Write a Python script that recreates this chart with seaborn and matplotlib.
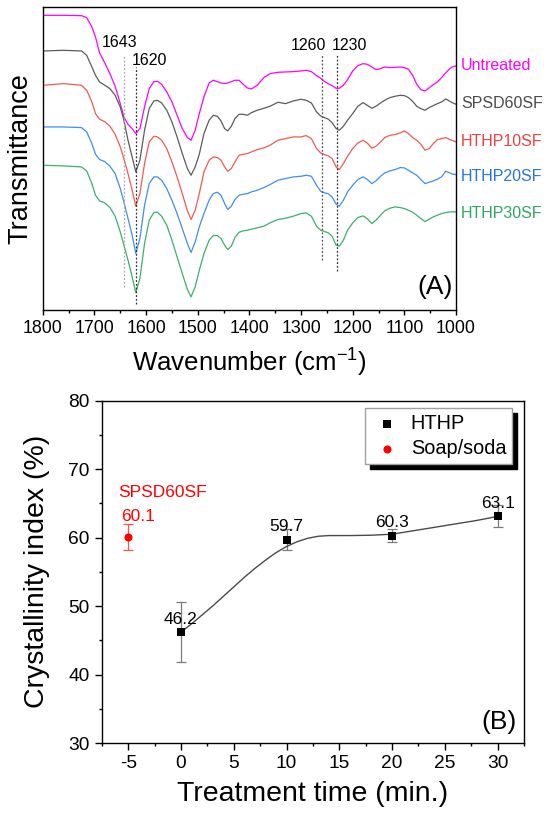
import numpy as np
import pandas as pd
import matplotlib
matplotlib.use('Agg')
import matplotlib.pyplot as plt
from matplotlib.ticker import MultipleLocator
import seaborn as sns

# (A) FTIR spectra, transmittance in arbitrary units
wavenumber = [1800, 1760, 1725, 1715, 1705, 1698, 1690, 1680, 1670, 1660,
              1650, 1643, 1635, 1627, 1620, 1612, 1603, 1594, 1585, 1578,
              1570, 1560, 1550, 1540, 1530, 1520, 1513, 1505, 1497, 1488,
              1478, 1470, 1462, 1455, 1448, 1442, 1435, 1428, 1420, 1412,
              1404, 1396, 1385, 1372, 1360, 1345, 1330, 1315, 1300, 1290,
              1280, 1270, 1262, 1255, 1248, 1240, 1232, 1226, 1218, 1210,
              1200, 1190, 1180, 1172, 1163, 1155, 1146, 1138, 1128, 1118,
              1108, 1100, 1092, 1084, 1076, 1068, 1060, 1052, 1044, 1036,
              1028, 1020, 1012, 1006, 1000]

untreated = [95.5, 95.5, 95.4, 94.8, 92.0, 89.0, 84.2, 81.2, 78.0, 74.2,
             69.0, 65.0, 62.8, 61.5, 60.0, 61.5, 68.0, 73.5, 75.6, 75.7,
             74.8, 72.5, 69.5, 65.5, 61.5, 58.8, 58.0, 61.0, 66.0, 71.0,
             75.2, 76.0, 75.6, 75.2, 75.0, 75.2, 75.6, 76.0, 76.0, 74.8,
             73.7, 73.4, 74.5, 76.8, 78.0, 78.4, 78.5, 78.6, 78.8, 79.0,
             78.6, 77.4, 76.6, 75.7, 75.0, 74.4, 73.6, 73.6, 74.5, 76.2,
             78.8, 80.4, 81.0, 80.8, 80.0, 79.2, 79.5, 80.0, 79.8, 79.9,
             80.0, 79.8, 79.3, 77.5, 74.8, 73.2, 72.8, 73.7, 74.7, 75.5,
             76.8, 78.2, 79.5, 80.1, 80.3]

spsd60sf = [84.8, 85.0, 84.8, 83.5, 80.0, 77.5, 75.5, 74.5, 73.5, 71.5,
            68.0, 64.0, 58.0, 53.0, 48.5, 52.0, 61.0, 67.5, 69.8, 70.0,
            69.2, 67.0, 63.5, 59.0, 54.0, 49.5, 47.5, 50.0, 53.8, 60.0,
            64.0, 65.5, 65.2, 63.8, 61.5, 60.8, 62.2, 64.5, 65.8, 65.8,
            65.5, 66.3, 67.0, 67.6, 68.2, 69.4, 69.0, 69.8, 70.3, 70.0,
            69.2, 66.5, 65.3, 64.8, 64.4, 63.3, 61.5, 61.0, 62.2, 64.0,
            66.0, 68.2, 69.3, 68.5, 67.6, 68.2, 69.2, 70.0, 70.8, 71.2,
            71.5, 71.4, 70.8, 69.7, 68.2, 67.5, 67.0, 67.8, 68.4, 69.0,
            69.5, 70.4, 69.7, 69.2, 68.8]

hthp10sf = [74.5, 75.0, 74.5, 73.0, 69.5, 66.0, 64.3, 63.6, 62.2, 59.8,
            56.0, 52.5, 48.0, 43.0, 38.2, 42.0, 51.0, 57.5, 59.2, 59.0,
            58.0, 55.5, 51.5, 47.0, 42.0, 36.8, 34.2, 37.0, 42.0, 48.5,
            52.0, 53.0, 52.8, 52.0, 50.0, 48.7, 49.5, 51.5, 53.5, 53.8,
            54.0, 54.5, 55.2, 55.7, 56.5, 58.0, 58.5, 59.0, 59.0, 59.4,
            58.5, 55.5, 54.2, 53.7, 53.4, 52.5, 50.0, 49.2, 51.0, 53.2,
            55.5, 57.2, 58.0, 57.2, 55.6, 56.2, 57.5, 58.8, 59.5, 59.7,
            60.2, 60.8, 60.0, 58.8, 58.0, 56.8, 55.0, 55.5, 57.0, 58.2,
            58.5, 58.8, 58.2, 57.9, 57.5]

hthp20sf = [62.0, 62.0, 61.8, 60.5, 57.0, 53.8, 52.2, 51.6, 50.2, 48.0,
            43.5, 39.5, 34.5, 29.5, 24.0, 28.5, 38.5, 45.0, 47.0, 47.0,
            46.0, 43.5, 40.0, 36.0, 31.5, 27.0, 24.3, 27.5, 32.0, 36.0,
            40.0, 42.0, 42.4, 41.5, 39.0, 37.2, 38.2, 40.2, 41.5, 41.8,
            42.0, 42.5, 43.0, 43.8, 44.7, 46.0, 46.5, 47.0, 47.2, 47.5,
            47.2, 44.5, 42.7, 42.2, 42.0, 41.0, 38.8, 38.2, 40.0, 42.5,
            44.5, 46.2, 47.0, 46.3, 45.0, 45.8, 47.2, 48.2, 48.8, 49.2,
            49.8, 49.7, 49.0, 48.2, 47.5, 46.2, 45.0, 45.4, 45.8, 46.3,
            47.0, 48.7, 48.2, 47.8, 47.7]

hthp30sf = [50.5, 50.3, 50.0, 48.8, 45.0, 41.5, 39.8, 39.2, 37.8, 35.2,
            30.5, 26.5, 22.0, 17.0, 12.3, 16.5, 27.0, 34.0, 36.3, 36.4,
            35.2, 32.5, 28.0, 23.0, 18.0, 13.2, 11.0, 14.0, 19.0, 24.0,
            28.0, 29.4, 29.4, 28.5, 26.5, 25.2, 26.2, 28.8, 30.4, 30.8,
            31.0, 31.3, 31.7, 32.2, 33.2, 34.2, 34.6, 35.2, 36.0, 36.2,
            35.2, 32.2, 31.0, 30.6, 30.3, 29.2, 26.5, 26.2, 28.0, 31.0,
            33.2, 34.8, 35.3, 34.5, 33.0, 34.0, 35.5, 36.8, 37.6, 38.0,
            37.8, 37.5, 37.0, 36.4, 35.5, 34.5, 33.6, 34.3, 35.0, 35.5,
            36.0, 36.3, 36.5, 36.5, 36.5]

samples = ['Untreated', 'SPSD60SF', 'HTHP10SF', 'HTHP20SF', 'HTHP30SF']
line_colors = ['#ff00ff', '#5c5c5c', '#f25a52', '#3f8ef0', '#3daf6d']
text_colors = ['#ff00ff', '#4a4a4a', '#f04040', '#2474e6', '#2fa862']
label_level = [80.5, 69.0, 57.5, 47.0, 36.0]

# dotted reference lines
peak_wn = [1643, 1620, 1260, 1230]
peak_low = [14.0, 9.0, 22.2, 18.8]
peak_high = [83.5, 80.0, 84.0, 84.0]
peak_color = ['#a8a8a8', '#303030', '#505050', '#303030']
peak_text_x = [1652, 1594, 1285, 1207]
peak_text_y = [87.2, 81.8, 86.3, 86.3]

# (B) crystallinity index
hthp_time = [0, 10, 20, 30]
hthp_ci = [46.2, 59.7, 60.3, 63.1]
hthp_err = [4.4, 1.5, 0.9, 1.6]
soda_time = [-5]
soda_ci = [60.1]
soda_err = [1.9]
fit_time = [0, 1, 2, 3, 4, 5, 6, 7, 8, 9, 10, 11, 12, 13, 14, 16, 18, 20, 22, 24, 26, 28, 30]
fit_ci = [46.2, 47.4, 48.7, 50.0, 51.4, 52.8, 54.2, 55.5, 56.7, 57.8, 58.7, 59.4, 59.9,
          60.2, 60.3, 60.3, 60.35, 60.5, 61.0, 61.5, 62.0, 62.5, 63.1]

sns.set_theme(style='ticks')
plt.rcParams['font.family'] = ['Liberation Sans', 'DejaVu Sans']
plt.rcParams['mathtext.fontset'] = 'custom'
plt.rcParams['mathtext.rm'] = 'Liberation Sans'
plt.rcParams['mathtext.it'] = 'Liberation Sans:italic'
plt.rcParams['axes.unicode_minus'] = False
plt.rcParams['axes.edgecolor'] = 'black'
plt.rcParams['axes.linewidth'] = 1.0
for key in ('text.color', 'axes.labelcolor', 'xtick.color', 'ytick.color',
            'xtick.labelcolor', 'ytick.labelcolor'):
    plt.rcParams[key] = 'black'

W, H = 550, 819
fig = plt.figure(figsize=(W / 100, H / 100), dpi=100)
ax1 = fig.add_axes([42.8 / W, 1 - 309.5 / H, 413.2 / W, 302.5 / H])
ax2 = fig.add_axes([101.8 / W, 1 - 743 / H, 422.2 / W, 342.3 / H])

# ---- panel A
spec_df = pd.DataFrame({
    'Wavenumber': wavenumber * len(samples),
    'T': untreated + spsd60sf + hthp10sf + hthp20sf + hthp30sf,
    'Sample': np.repeat(samples, len(wavenumber)),
})
sns.lineplot(data=spec_df, x='Wavenumber', y='T', hue='Sample', hue_order=samples,
             palette=line_colors, estimator=None, sort=False, lw=0.9, legend=False, ax=ax1)

for wn, lo, hi, c in zip(peak_wn, peak_low, peak_high, peak_color):
    ax1.vlines(wn, lo, hi, colors=c, linestyles=(0, (1.5, 1.5)), lw=0.9)
for wn, tx, ty in zip(peak_wn, peak_text_x, peak_text_y):
    ax1.text(tx, ty, str(wn), ha='center', va='center', fontsize=11.5, color='black')

for name, y, c in zip(samples, label_level, text_colors):
    ax1.text(1.012, y, name, transform=ax1.get_yaxis_transform(), ha='left', va='center',
             fontsize=11.5, color=c, clip_on=False)

ax1.text(1041, 14, '(A)', ha='center', va='center', fontsize=19)
ax1.set_xlim(1800, 1000)
ax1.set_ylim(7.2, 98)
ax1.set_yticks([])
ax1.xaxis.set_major_locator(MultipleLocator(100))
ax1.xaxis.set_minor_locator(MultipleLocator(50))
ax1.tick_params(axis='x', which='major', length=3.8, width=1, labelsize=12.8, pad=4)
ax1.tick_params(axis='x', which='minor', length=2, width=1)
ax1.set_xlabel('Wavenumber (cm$^{-1}$)', fontsize=18.6)
ax1.set_ylabel('Transmittance', fontsize=19.5)
ax1.xaxis.set_label_coords(0.5, -0.122)
ax1.yaxis.set_label_coords(-0.023, 0.5)

# ---- panel B
ax2.errorbar(hthp_time, hthp_ci, yerr=hthp_err, fmt='none', ecolor='#7a7a7a',
             elinewidth=0.9, capsize=3.8, capthick=0.9, zorder=2)
ax2.errorbar(soda_time, soda_ci, yerr=soda_err, fmt='none', ecolor='#ff5050',
             elinewidth=0.9, capsize=3.8, capthick=0.9, zorder=2)
sns.lineplot(x=fit_time, y=fit_ci, color='#4a4a4a', lw=1.0, ax=ax2, zorder=3)
sns.scatterplot(x=hthp_time, y=hthp_ci, marker='s', s=30, color='black', edgecolor='black',
                linewidth=0, label='HTHP', ax=ax2, zorder=4)
sns.scatterplot(x=soda_time, y=soda_ci, marker='o', s=34, color='#ff0000', edgecolor='#ff0000',
                linewidth=0, label='Soap/soda', ax=ax2, zorder=4)

for t, v in zip(hthp_time, hthp_ci):
    ax2.text(t, v + 1.9, f'{v}', ha='center', va='center', fontsize=12.5, color='black')
ax2.text(-4.06, 63.1, f'{soda_ci[0]}', ha='center', va='center', fontsize=12.5, color='#ff0000')
ax2.text(-1.73, 66.6, 'SPSD60SF', ha='center', va='center', fontsize=12.5, color='#ff0000')
ax2.text(30.1, 33.1, '(B)', ha='center', va='center', fontsize=19)

ax2.set_xlim(-7.5, 32.5)
ax2.set_ylim(30, 80)
ax2.xaxis.set_major_locator(MultipleLocator(5))
ax2.xaxis.set_minor_locator(MultipleLocator(2.5))
ax2.yaxis.set_major_locator(MultipleLocator(10))
ax2.yaxis.set_minor_locator(MultipleLocator(5))
ax2.tick_params(which='major', length=4.8, width=1, labelsize=13.8, pad=4)
ax2.tick_params(which='minor', length=2.4, width=1)
ax2.set_xlabel('Treatment time (min.)', fontsize=20.5)
ax2.set_ylabel('Crystallinity index (%)', fontsize=20.5)
ax2.xaxis.set_label_coords(0.5, -0.112)
ax2.yaxis.set_label_coords(-0.122, 0.5)

leg = ax2.legend(loc='upper right', bbox_to_anchor=(0.972, 0.979), borderaxespad=0,
                 fontsize=14.3, fancybox=False, edgecolor='#a0a0a0', framealpha=1,
                 shadow={'color': 'black', 'alpha': 1, 'ox': 3.6, 'oy': -3.6},
                 handletextpad=0.4, handlelength=1.6, borderpad=0.3, labelspacing=0.3)
leg.get_frame().set_linewidth(1.0)

for ax in (ax1, ax2):
    for sp in ax.spines.values():
        sp.set_visible(True)
        sp.set_color('black')
        sp.set_linewidth(1.0)

fig.savefig('out.png', dpi=100)
